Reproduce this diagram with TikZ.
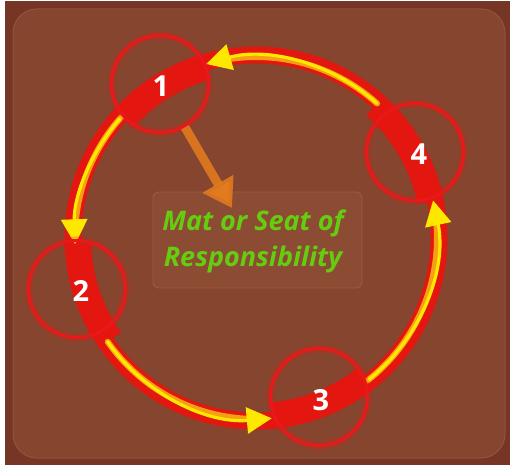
\documentclass[tikz,border=0pt]{standalone}
\usepackage{fontspec}
\setmainfont{Open Sans}
\usetikzlibrary{arrows.meta}
\definecolor{outerbg}{RGB}{118,54,38}
\definecolor{innerbg}{RGB}{133,69,46}
\definecolor{innerline}{RGB}{146,82,60}
\definecolor{ringred}{RGB}{228,22,16}
\definecolor{markred}{RGB}{234,24,24}
\definecolor{yel}{RGB}{255,232,0}
\definecolor{yeledge}{RGB}{245,160,20}
\definecolor{orarrow}{RGB}{226,122,30}
\definecolor{boxfill}{RGB}{140,76,52}
\definecolor{boxline}{RGB}{158,92,66}
\definecolor{txtgreen}{RGB}{102,204,16}
\begin{document}
\begin{tikzpicture}[x=1pt,y=-1pt,
  ring/.style={draw=ringred},
  thinring/.style={ring, line width=17pt},
  thickring/.style={ring, line width=26pt},
  markc/.style={circle, draw=markred, line width=3pt, minimum size=97pt, inner sep=0pt,
    preaction={draw=markred, draw opacity=.25, line width=8pt}},
  num/.style={text=white, font=\bfseries\fontsize{29}{29}\selectfont, inner sep=0pt},
  yedge/.style={draw=yeledge, line width=6pt, line cap=round},
  ycore/.style={draw=yel, line width=3.2pt, line cap=round, -{Triangle[length=25pt,width=26pt]}},
  oarrow/.style={draw=orarrow, draw opacity=.9, line width=9pt, -{Triangle[length=28pt,width=34pt]}},
  tbox/.style={draw=boxline, fill=boxfill, rounded corners=6pt, line width=.8pt,
    minimum width=209pt, minimum height=96pt},
  lbl/.style={text=txtgreen, font=\bfseries\itshape\fontsize{27}{36}\selectfont, align=center, inner sep=0pt}
]
\useasboundingbox (0,0) rectangle (510,465);
\fill[white] (0,0) rectangle (510,465);
\fill[outerbg] (5,1) rectangle (510,465);
\draw[fill=innerbg, draw=innerline, line width=1pt, rounded corners=24pt] (13,9) rectangle (505,458);

% ring
\draw[thinring] (256,238) circle[radius=183];
\begin{scope}[shift={(256,238)}]
  \draw[thickring] (222:178) arc[start angle=222, end angle=254, radius=178];
  \draw[thickring] (145:178) arc[start angle=145, end angle=178, radius=178];
  \draw[thickring] (52:178) arc[start angle=52, end angle=85, radius=178];
  \draw[thickring] (312:178) arc[start angle=312, end angle=348, radius=178];
  % yellow arrows
  \draw[yedge] (312:181) arc[start angle=312, end angle=262, radius=181];
  \draw[ycore] (312:181) arc[start angle=312, end angle=254, radius=181];
  \draw[yedge] (222:181) arc[start angle=222, end angle=186, radius=181];
  \draw[ycore] (222:181) arc[start angle=222, end angle=178, radius=181];
  \draw[yedge] (145:181) arc[start angle=145, end angle=93, radius=181];
  \draw[ycore] (145:181) arc[start angle=145, end angle=85, radius=181];
  \draw[yedge] (52:181) arc[start angle=52, end angle=-4, radius=181];
  \draw[ycore] (52:181) arc[start angle=52, end angle=-12, radius=181];
\end{scope}

% marker circles
\node[markc] (m1) at (160,84) {};
\node[markc] (m2) at (77,289) {};
\node[markc] (m3) at (319,397) {};
\node[markc] (m4) at (415,152) {};
\node[num] (n1) at (161,86) {1};
\node[num] (n2) at (81,291) {2};
\node[num] (n3) at (321,400) {3};
\node[num] (n4) at (419,154) {4};

% text box
\node[tbox] (box) at (257.5,240) {};
\coordinate (otip) at (232,208);
\draw[oarrow] (m1.300) -- (otip);
\node[lbl] (label) at (253,241) {Mat or Seat of\\Responsibility};
\end{tikzpicture}
\end{document}
